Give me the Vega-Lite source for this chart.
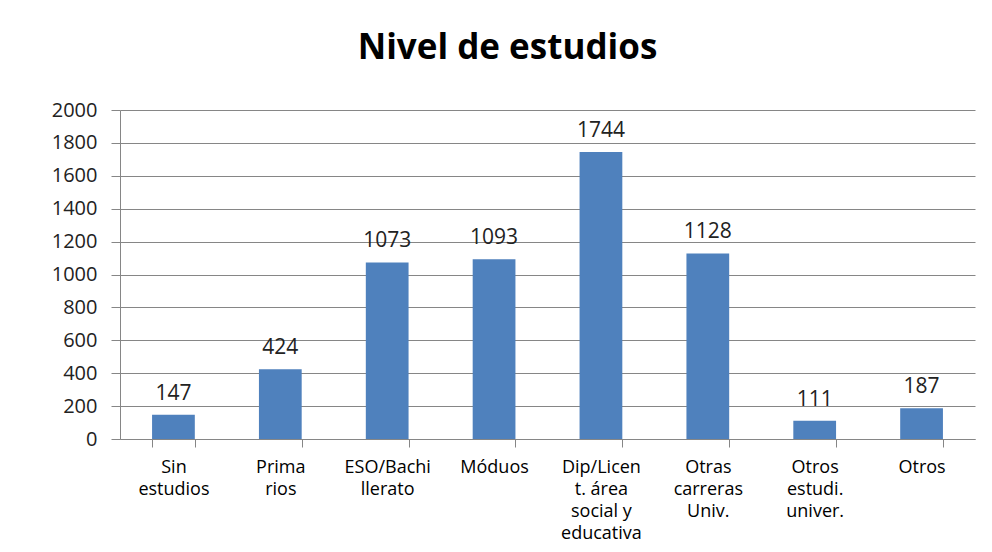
{
  "$schema": "https://vega.github.io/schema/vega-lite/v6.json",
  "autosize": "none",
  "width": 855,
  "height": 329,
  "padding": {"left": 120, "top": 110, "right": 17, "bottom": 113},
  "background": "white",
  "title": {
    "text": "Nivel de estudios",
    "font": "Open Sans",
    "fontSize": 35,
    "fontWeight": "bold",
    "color": "#000000",
    "anchor": "middle",
    "frame": "group",
    "dx": -40,
    "offset": 6,
    "baseline": "alphabetic"
  },
  "data": {
    "values": [
      {"cat": "Sin|estudios", "n": 147},
      {"cat": "Prima|rios", "n": 424},
      {"cat": "ESO/Bachi|llerato", "n": 1073},
      {"cat": "Móduos", "n": 1093},
      {"cat": "Dip/Licen|t. área|social y|educativa", "n": 1744},
      {"cat": "Otras|carreras|Univ.", "n": 1128},
      {"cat": "Otros|estudi.|univer.", "n": 111},
      {"cat": "Otros", "n": 187}
    ]
  },
  "encoding": {
    "x": {
      "field": "cat",
      "type": "nominal",
      "sort": null,
      "title": null,
      "scale": {"paddingInner": 0.6, "paddingOuter": 0.3},
      "axis": {
        "labelExpr": "split(datum.label, '|')",
        "labelAngle": 0,
        "labelFont": "Open Sans",
        "labelFontSize": 18,
        "labelColor": "#000000",
        "labelLineHeight": 22,
        "labelBaseline": "top",
        "labelPadding": 11,
        "labelLimit": 200,
        "tickBand": "extent",
        "tickSize": 8,
        "tickColor": "#868686",
        "domainColor": "#868686",
        "labelOverlap": false
      }
    },
    "y": {
      "field": "n",
      "type": "quantitative",
      "title": null,
      "scale": {"domain": [0, 2000]},
      "axis": {
        "values": [0, 200, 400, 600, 800, 1000, 1200, 1400, 1600, 1800, 2000],
        "format": "d",
        "labelFont": "Open Sans",
        "labelFontSize": 20,
        "labelColor": "#222222",
        "labelPadding": 14,
        "tickSize": 9,
        "tickColor": "#868686",
        "domainColor": "#868686",
        "gridColor": "#868686",
        "grid": true
      }
    }
  },
  "layer": [
    {"mark": {"type": "bar", "color": "#4F81BD"}},
    {
      "mark": {"type": "text", "dy": -21, "font": "Open Sans", "fontSize": 21, "color": "#222222"},
      "encoding": {"text": {"field": "n", "type": "quantitative"}}
    }
  ],
  "config": {"view": {"stroke": null}}
}
